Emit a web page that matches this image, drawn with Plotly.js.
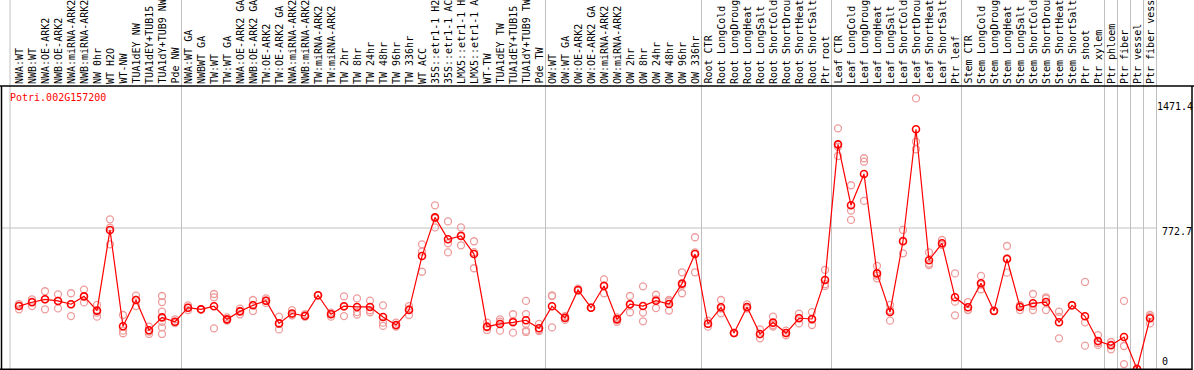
<!DOCTYPE html>
<html><head><meta charset="utf-8">
<script src="https://cdn.plot.ly/plotly-3.0.1.min.js"></script>
<style>html,body{margin:0;padding:0;background:#fff;overflow:hidden}#chart{width:1194px;height:370px}</style>
</head><body><div id="chart"></div>
<script>
const geneTitle = "Potri.002G157200";
const samples = ["NWA:WT","NWB:WT","NWA:OE-ARK2","NWB:OE-ARK2","NWA:miRNA-ARK2","NWB:miRNA-ARK2","NW 0hr","WT H2O","WT-NW","TUA1dEY NW","TUA1dEY+TUB15 NW","TUA1dY+TUB9 NW","Pde NW",
"NWA:WT GA","NWBWT GA","TW:WT","TW:WT GA","NWA:OE-ARK2 GA","NWB:OE-ARK2 GA","TW:OE-ARK2","TW:OE-ARK2 GA","NWA:miRNA-ARK2 GA","NWB:miRNA-ARK2 GA","TW:miRNA-ARK2","TW:miRNA-ARK2 GA","TW 2hr","TW 8hr","TW 24hr","TW 48hr","TW 96hr","TW 336hr","WT ACC","35S::etr1-1 H2O","35S::etr1-1 ACC","LMX5::etr1-1 H2O","LMX5::etr1-1 ACC","WT-TW","TUA1dEY TW","TUA1dEY+TUB15 TW","TUA1dY+TUB9 TW","Pde TW",
"OW:WT","OW:WT GA","OW:OE-ARK2","OW:OE-ARK2 GA","OW:miRNA-ARK2","OW:miRNA-ARK2 GA","OW 2hr","OW 8hr","OW 24hr","OW 48hr","OW 96hr","OW 336hr",
"Root CTR","Root LongCold","Root LongDrought","Root LongHeat","Root LongSalt","Root ShortCold","Root ShortDrought","Root ShortHeat","Root ShortSalt","Ptr root",
"Leaf CTR","Leaf LongCold","Leaf LongDrought","Leaf LongHeat","Leaf LongSalt","Leaf ShortCold","Leaf ShortDrought","Leaf ShortHeat","Leaf ShortSalt","Ptr leaf",
"Stem CTR","Stem LongCold","Stem LongDrought","Stem LongHeat","Stem LongSalt","Stem ShortCold","Stem ShortDrought","Stem ShortHeat","Stem ShortSalt","Ptr shoot","Ptr xylem","Ptr phloem","Ptr fiber","Ptr vessel","Ptr fiber vessel"];
const means = [345,366,382,373,355,398,320,762,234,378,212,283,259,
336,327,344,272,316,349,374,250,304,292,404,300,344,340,340,285,241,323,619,831,711,729,630,232,247,256,267,223,
344,280,433,336,455,272,355,345,374,356,468,630,
248,338,197,340,192,254,197,278,274,488,
1231,897,1069,524,312,700,1314,596,689,393,
338,470,318,603,340,360,367,256,349,289,153,130,175,0,278];
const replicates = [[356,327,345],[369,345,382],[426,382,327],[409,373,332],[415,355,290],[435,398,365],[351,309,287],[820,775,683],[296,210,196],[402,378,345],[232,205,192],[400,367,314,259,228,192],[272,254,252],
[349,336,323],[327,327,328],[411,393,223],[283,265,270],[331,300,318],[378,318,351],[387,374,362],[287,217,247],[323,296,294],[301,287,288],[404,404,404],[309,287,303],[398,290,342],[387,312,298],[375,322,311],[349,254,236],[254,232,237],[345,296,329],[683,643,533],[897,826,776],[809,689,639],[776,678,733],[700,552,640],[254,214,228],[272,259,210],[300,263,199],[373,301,247,210,203],[247,214,208],
[400,228,403],[290,269,280],[440,429,430],[336,336,336],[491,415,458],[283,259,275],[400,311,353],[453,309,261],[407,382,334],[378,320,370],[530,415,458],[722,530,639],
[265,232,248],[378,305,331],[197,197,197],[354,332,333],[217,168,190],[287,241,233],[210,185,197],[303,250,280],[312,241,269],[543,455,465],
[1319,1218,1167],[1007,868,817],[1155,1136,921],[565,497,512],[351,265,322],[762,634,703],[1483,1246,1204],[639,570,578],[707,680,680],[524,369,294],
[367,323,324],[510,437,462],[318,318,318],[674,528,607],[323,348,348],[411,323,346],[393,323,386],[314,168,286],[349,349,349],[477,256,128],[186,132,142],[148,108,134],[373,126,27],[0,0,0],[296,250,287]];
const groupBreaks = [-0.69,12.5,40.5,52.5,62.5,72.5,83.5,84.5,85.5,86.5,87.5];
const tickTexts = ["1471.4","772.7","0"];
const maxLabelChars = 14;

const W=1194,H=370;
const idx = samples.map((_,i)=>i);
const repX=[],repY=[];
replicates.forEach((r,i)=>r.forEach(v=>{repX.push(i);repY.push(v);}));
const pxPerUnit = 141/772.7;
const y0 = -1/pxPerUnit, y1 = y0 + H/pxPerUnit;
const x0 = -19/13, x1 = x0 + W/13;
const font = {family:"DejaVu Sans Mono, monospace", size:10, color:"#000"};
const px = p=>p/W, py = p=>1-p/H;

const shapes=[];
groupBreaks.forEach(g=>shapes.push({type:"line",xref:"x",yref:"paper",x0:g,x1:g,y0:0,y1:1,line:{color:"#c0c0c0",width:1},layer:"below"}));
shapes.push({type:"line",xref:"paper",yref:"y",x0:px(1),x1:px(1156),y0:772.7,y1:772.7,line:{color:"#c0c0c0",width:1},layer:"below"});
shapes.push({type:"line",xref:"paper",yref:"paper",x0:0,x1:1,y0:py(86),y1:py(86),line:{color:"#000",width:1.5}});
shapes.push({type:"line",xref:"paper",yref:"paper",x0:px(1.5),x1:px(1.5),y0:py(86),y1:py(370),line:{color:"#000",width:1.5}});
shapes.push({type:"line",xref:"paper",yref:"paper",x0:px(1192),x1:px(1192),y0:py(86),y1:py(370),line:{color:"#000",width:1.5}});
shapes.push({type:"line",xref:"paper",yref:"paper",x0:0,x1:px(1192),y0:py(369.3),y1:py(369.3),line:{color:"#000",width:1.5}});

const annotations = samples.map((s,i)=>({x:i,xref:"x",y:py(85),yref:"paper",text:s.slice(0,maxLabelChars),textangle:-90,showarrow:false,xanchor:"center",yanchor:"bottom",font:font,borderpad:0}));
annotations.push({x:px(8),xref:"paper",y:py(97),yref:"paper",text:geneTitle,showarrow:false,xanchor:"left",yanchor:"middle",font:{family:font.family,size:10,color:"#ff0000"}});
const tickPos=[107,231.7,361.7];
tickTexts.forEach((t,k)=>annotations.push(k===0
 ? {x:1,xref:"paper",y:py(tickPos[k]),yref:"paper",text:t,showarrow:false,xanchor:"right",yanchor:"middle",font:font,borderpad:0}
 : {x:px(1160),xref:"paper",y:py(tickPos[k]),yref:"paper",text:t,showarrow:false,xanchor:"left",yanchor:"middle",font:font}));

const traces=[
 {x:repX,y:repY,type:"scatter",mode:"markers",cliponaxis:false,hoverinfo:"skip",
  marker:{symbol:"circle-open",size:7,color:"#ee9c9c",line:{width:1.3,color:"#ee9c9c"}}},
 {x:idx,y:means,type:"scatter",mode:"lines+markers",cliponaxis:false,
  line:{color:"#ff0000",width:1.2},
  marker:{symbol:"circle-open",size:7,color:"#ff0000",line:{width:1.6,color:"#ff0000"}}}
];
const layout={width:W,height:H,margin:{l:0,r:0,t:0,b:0,pad:0},showlegend:false,
 paper_bgcolor:"#fff",plot_bgcolor:"#fff",
 xaxis:{range:[x0,x1],visible:false,fixedrange:true},
 yaxis:{range:[y0,y1],visible:false,fixedrange:true},
 shapes:shapes,annotations:annotations};
Plotly.newPlot("chart",traces,layout,{staticPlot:true,displayModeBar:false});
</script></body></html>
